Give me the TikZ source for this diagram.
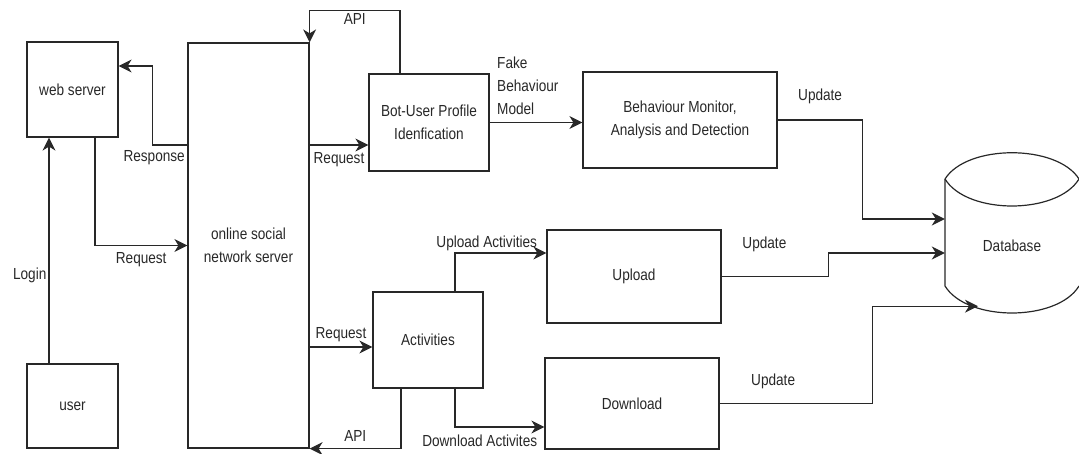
\documentclass[tikz,border=0pt]{standalone}
\usepackage{fontspec}
\setmainfont[FakeStretch=0.85]{Liberation Sans}
\usepackage{tikz}
\usetikzlibrary{arrows.meta}
\definecolor{ink}{RGB}{40,40,40}
\tikzset{
  block/.style={draw=ink,line width=1.2pt,align=center,inner sep=0pt},
  flow/.style={draw=ink,line width=1.2pt,-{Stealth[length=13pt,width=13pt,inset=4pt]}},
  lbl/.style={text=ink,inner sep=2pt}
}

\begin{document}
\begin{tikzpicture}[x=1pt,y=-1pt,font=\fontsize{16}{23}\selectfont,text=ink]
\useasboundingbox (0,0) rectangle (1079,454);
\node[block,minimum width=91,minimum height=95] (web) at (72.5,89.5) {web server};
\node[block,minimum width=91,minimum height=84] (user) at (72.5,406) {user};
\node[block,minimum width=121,minimum height=405] (osn) at (248.5,245.5) {online social\\network server};
\node[block,minimum width=120,minimum height=97] (bot) at (429,122.5) {Bot-User Profile\\Idenfication};
\node[block,minimum width=194,minimum height=96] (beh) at (680,120) {Behaviour Monitor,\\Analysis and Detection};
\node[block,minimum width=110,minimum height=96] (act) at (428,340) {Activities};
\node[block,minimum width=174,minimum height=93] (up) at (634,276.5) {Upload};
\node[block,minimum width=174,minimum height=91] (down) at (632,403.5) {Download};
\node[minimum width=134,minimum height=134,inner sep=0pt] (db) at (1012,246) {Database};
\draw[ink,line width=1.2pt] (945,179) .. controls (967,144) and (1057,144) .. (1079,179);
\draw[ink,line width=1.2pt] (945,179) .. controls (967,215) and (1057,215) .. (1079,179);
\draw[ink,line width=1.2pt] (945,179) -- (945,286) .. controls (967,322) and (1057,322) .. (1079,286);
\draw[flow] ([xshift=-23.5]user.north) -- node[lbl,pos=0.39,left]{Login} ([xshift=-23.5]web.south);
\draw[flow] ([xshift=22.5]web.south) |- node[lbl,pos=0.75,below=4pt]{Request} (osn.west);
\draw[flow] ([yshift=100.5]osn.west) -- node[lbl,pos=0,below left,yshift=-3]{Response} ++(-35,0) |- ([yshift=23.5]web.east);
\draw[flow] ([xshift=-29]bot.north) -- ++(0,-63) -| node[lbl,pos=0.25,below]{API} (osn.north east);
\draw[flow] ([yshift=100.5]osn.east) -- node[lbl,below=5pt]{Request} ([yshift=-22.5]bot.west);
\draw[flow] (bot.east) -- node[lbl,pos=0,above right,align=left,xshift=5,yshift=5]{Fake\\Behaviour\\Model} (bot.east -| beh.west);
\draw[flow] (beh.east) -- node[lbl,above=14pt]{Update} ++(85,0) |- ([yshift=27]db.west);
\draw[flow] ([yshift=-101.5]osn.east) -- node[lbl,above=3pt]{Request} ([yshift=-7]act.west);
\draw[flow] ([xshift=27]act.north) |- node[lbl,pos=0.75,above,xshift=-14]{Upload Activities} ([yshift=23.5]up.west);
\draw[flow] ([xshift=27]act.south) |- node[lbl,pos=0.75,below=5pt,xshift=-20]{Download Activites} ([yshift=-23.5]down.west);
\draw[flow] ([xshift=-27]act.south) |- node[lbl,pos=0.75,above=5pt]{API} (osn.south east);
\draw[flow] (up.east) -- node[lbl,pos=0.4,above=22pt]{Update} ++(107,0) |- ([yshift=-7]db.west);
\draw[flow] (down.east) -- node[lbl,pos=0.35,above=12pt]{Update} ++(153,0) |- ([xshift=-34,yshift=7]db.south);
\end{tikzpicture}
\end{document}
